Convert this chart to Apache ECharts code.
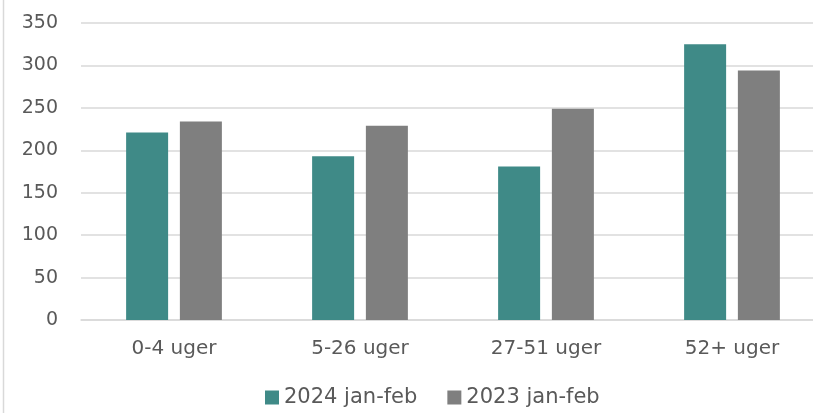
<!DOCTYPE html>
<html><head><meta charset="utf-8">
<script src="https://cdn.jsdelivr.net/npm/echarts@6/dist/echarts.min.js"></script>
<style>html,body{margin:0;padding:0;background:#fff;overflow:hidden}#c{width:830px;height:413px}</style>
</head><body><div id="c"></div>
<script>
const categories = ['0-4 uger', '5-26 uger', '27-51 uger', '52+ uger'];
const seriesNames = ['2024 jan-feb', '2023 jan-feb'];
const values2024 = [221, 193, 181, 325];
const values2023 = [234, 229, 249, 294];
const yTicks = [0, 50, 100, 150, 200, 250, 300, 350];

const chart = echarts.init(document.getElementById('c'), null, {renderer: 'canvas'});
const font = '"DejaVu Sans", sans-serif';
chart.setOption({
  animation: false,
  textStyle: {fontFamily: font},
  graphic: [{type: 'line', shape: {x1: 3.5, y1: 0, x2: 3.5, y2: 413}, style: {stroke: '#d9d9d9', lineWidth: 1.5}}],
  grid: {left: 81, top: 23, width: 744, height: 297, containLabel: false},
  legend: {
    data: seriesNames, top: 387, left: 265, padding: 0, itemWidth: 14, itemHeight: 14, itemGap: 30,
    icon: 'rect',
    textStyle: {fontSize: 21, color: '#595959', fontFamily: font}
  },
  xAxis: {
    type: 'category', data: categories,
    axisLine: {lineStyle: {color: '#d9d9d9', width: 1.5}},
    axisTick: {show: false},
    axisLabel: {fontSize: 20, color: '#595959', margin: 19, fontFamily: font}
  },
  yAxis: {
    type: 'value', min: yTicks[0], max: yTicks[yTicks.length - 1], interval: 50,
    axisLine: {show: false}, axisTick: {show: false},
    axisLabel: {fontSize: 19, color: '#595959', margin: 23, fontFamily: font},
    splitLine: {lineStyle: {color: '#d9d9d9', width: 1.5}}
  },
  series: [
    {name: seriesNames[0], type: 'bar', data: values2024, barWidth: 42, barGap: '28%', itemStyle: {color: '#3f8a87'}},
    {name: seriesNames[1], type: 'bar', data: values2023, barWidth: 42, itemStyle: {color: '#7f7f7f'}}
  ]
});
</script></body></html>
